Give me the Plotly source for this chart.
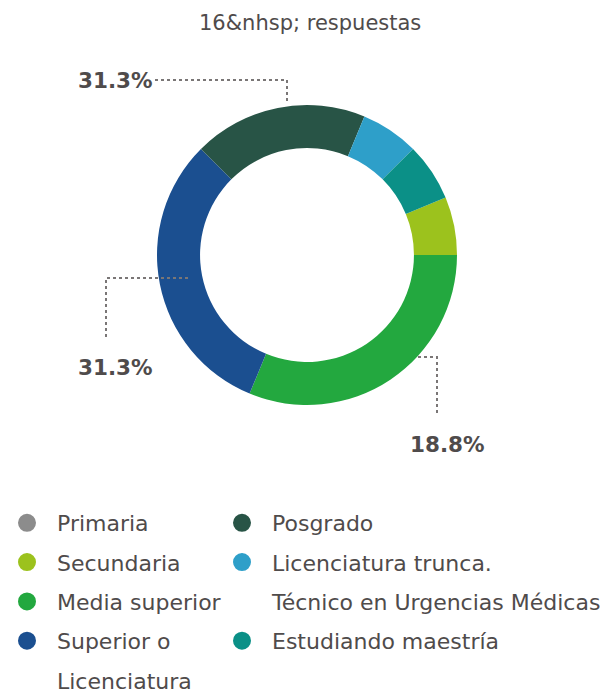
import plotly.graph_objects as go
from decimal import Decimal, ROUND_HALF_UP

# ---- data ----
categories = ["Primaria", "Secundaria", "Media superior", "Superior o Licenciatura",
              "Posgrado", "Licenciatura trunca. Técnico en Urgencias Médicas",
              "Estudiando maestría"]
values = [0, 1, 5, 5, 3, 1, 1]
colors = ["#8c8c8c", "#9cc21d", "#23a83f", "#1b4f90", "#285446", "#2e9fc9", "#0b9087"]
total_label = "16&amp;nhsp; respuestas"

# legend columns (text lines per entry)
legend_left = [("Primaria", 0), ("Secundaria", 1), ("Media superior", 2),
               ("Superior o", 3), ("Licenciatura", None)]
legend_right = [("Posgrado", 4), ("Licenciatura trunca.", 5),
                ("Técnico en Urgencias Médicas", None), ("Estudiando maestría", 6)]

# shown percentage labels (category index)
label_cats = [3, 2, 4]

# page has an 8px body margin: figure sized to fit the window
OFF = 8
W, H = 613 - OFF, 694 - OFF
def px(x): return (x - OFF) / W
def py(y): return 1 - (y - OFF) / H

total = sum(values)
FONT = "DejaVu Sans"
TXT = "#4f4b4b"

fig = go.Figure()
fig.add_trace(go.Pie(
    labels=categories, values=values, sort=False, direction="clockwise",
    rotation=67.5, hole=0.713, marker=dict(colors=colors, line=dict(width=0)),
    textinfo="none", hoverinfo="label+percent", showlegend=False,
    domain=dict(x=[px(157), px(457)], y=[py(405), py(105)]),
))

def add_legend_items(items, legend_id):
    for i, (txt, ci) in enumerate(items):
        col = colors[ci] if ci is not None else "rgba(0,0,0,0)"
        fig.add_trace(go.Scatter(
            x=[None], y=[None], mode="markers", name=txt,
            marker=dict(size=18, color=col, line=dict(width=2, color=col)),
            legend=legend_id, legendgroup=f"{legend_id}_{i}", showlegend=True,
        ))

add_legend_items(legend_left, "legend")
add_legend_items(legend_right, "legend2")

leg_common = dict(
    orientation="v", xanchor="left", yanchor="top", bgcolor="rgba(0,0,0,0)",
    font=dict(family=FONT, size=22, color=TXT), tracegroupgap=7.7,
    traceorder="grouped", itemclick=False, itemdoubleclick=False, itemwidth=50,
)
fig.update_layout(
    width=W, height=H, margin=dict(l=0, r=0, t=0, b=0, autoexpand=False),
    paper_bgcolor="white", plot_bgcolor="white",
    xaxis=dict(visible=False), yaxis=dict(visible=False),
    legend=dict(x=px(-3), y=py(502), **leg_common),
    legend2=dict(x=px(212), y=py(502), **leg_common),
)

# subtitle
fig.add_annotation(text=total_label, x=px(310), y=py(23), xref="paper", yref="paper",
                   xanchor="center", yanchor="middle", showarrow=False,
                   font=dict(family=FONT, size=21, color=TXT))

def fmt_pct(v):
    pct = Decimal(v) * 100 / Decimal(total)
    return f"{pct.quantize(Decimal('0.1'), rounding=ROUND_HALF_UP)}%"

# percentage labels and leader lines
label_pos = [(115, 80), (115, 367), (447, 444)]
leader_paths = [
    [(155, 80), (287, 80), (287, 103)],
    [(106, 337), (106, 278), (188, 278)],
    [(418, 357), (437, 357), (437, 415)],
]
for ci, (lx, ly), path in zip(label_cats, label_pos, leader_paths):
    fig.add_annotation(text=f"<b>{fmt_pct(values[ci])}</b>", x=px(lx), y=py(ly),
                       xref="paper", yref="paper", xanchor="center", yanchor="middle",
                       showarrow=False, font=dict(family=FONT, size=21.5, color=TXT))
    d = "M " + " L ".join(f"{px(x)} {py(y)}" for x, y in path)
    fig.add_shape(type="path", path=d, xref="paper", yref="paper",
                  line=dict(color="#7a7676", width=2, dash="dot"))

fig.write_html("out.html")
